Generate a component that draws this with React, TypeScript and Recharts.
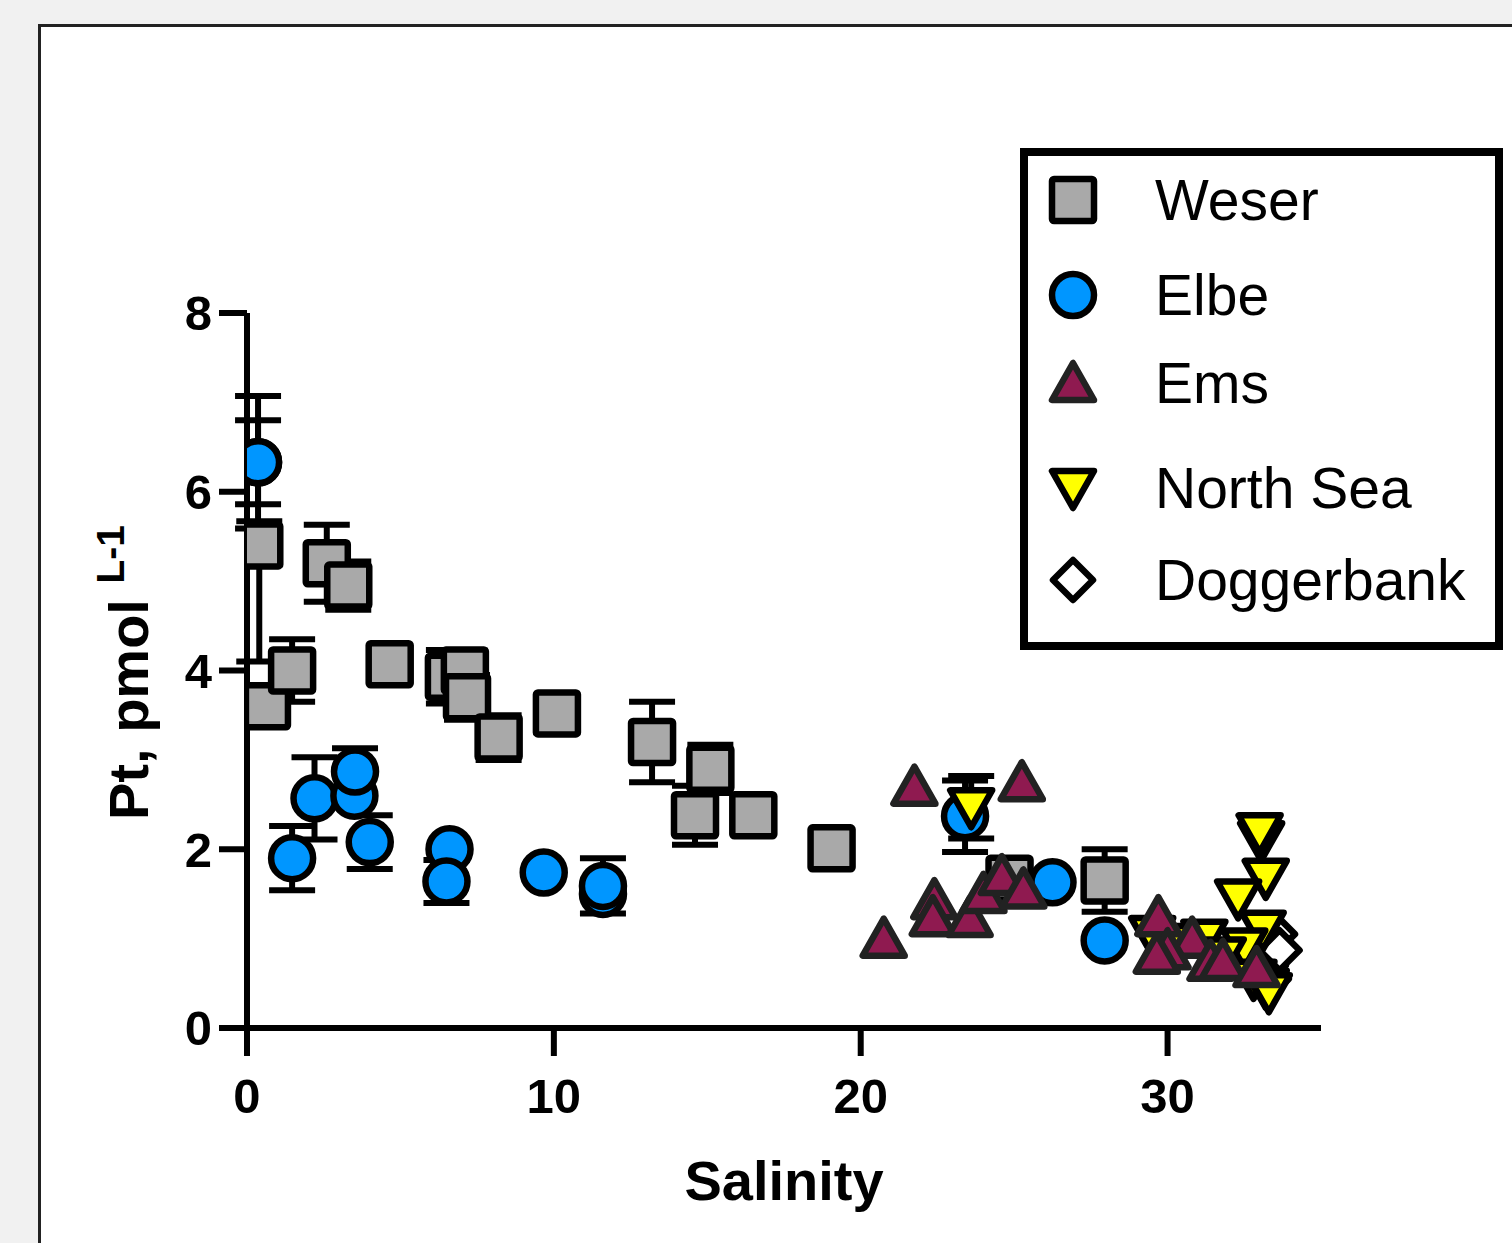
import { ScatterChart, Scatter, XAxis, YAxis, ErrorBar, Legend } from "recharts";

const salinityTicks = [0, 10, 20, 30];
const ptTicks = [0, 2, 4, 6, 8];

// Weser (squares)
const weserSalinity = [0.4, 0.65, 1.47, 2.6, 3.3, 4.65, 6.58, 7.1, 7.17, 8.2, 10.1, 13.2, 15.1, 14.6, 16.5, 19.05, 24.85, 27.95];
const weserPt = [5.4, 3.6, 4.0, 5.2, 4.95, 4.07, 3.93, 4.0, 3.7, 3.25, 3.52, 3.2, 2.9, 2.38, 2.38, 2.01, 1.67, 1.65];
const weserErrLow = [1.3, 0, 0.35, 0.43, 0.27, 0, 0.3, 0.22, 0.25, 0.25, 0, 0.45, 0.27, 0.33, 0, 0, 0, 0.35];
const weserErrHigh = [0.27, 0, 0.35, 0.43, 0.27, 0, 0.3, 0.22, 0.25, 0.25, 0, 0.45, 0.27, 0.33, 0, 0, 0, 0.35];

// Elbe (circles)
const elbeSalinity = [0.36, 0.36, 1.47, 2.2, 3.5, 3.52, 4.0, 6.6, 6.5, 9.67, 11.6, 11.6, 23.4, 26.25, 27.95];
const elbePt = [6.33, 6.33, 1.9, 2.57, 2.6, 2.87, 2.08, 2.0, 1.64, 1.74, 1.5, 1.59, 2.37, 1.63, 0.98];
const elbeErr = [0.74, 0.47, 0.36, 0.46, 0, 0.26, 0.3, 0, 0.24, 0, 0, 0.31, 0.4, 0, 0];

// Ems (triangles)
const emsSalinity = [20.75, 21.75, 25.25, 22.4, 22.35, 23.55, 24.0, 24.6, 25.3, 29.7, 30.8, 30.0, 29.65, 31.4, 31.8, 32.9];
const emsPt = [1.0, 2.7, 2.75, 1.43, 1.24, 1.23, 1.5, 1.7, 1.55, 1.24, 1.0, 0.87, 0.82, 0.74, 0.75, 0.67];

// North Sea (inverted triangles)
const northSeaSalinity = [23.6, 33.05, 33.0, 33.2, 32.3, 29.5, 30.2, 31.2, 33.1, 32.5, 31.8, 32.8, 33.2, 33.3];
const northSeaPt = [2.47, 2.1, 2.19, 1.68, 1.45, 1.04, 0.95, 1.0, 1.1, 0.9, 0.8, 0.55, 0.45, 0.4];
const northSeaErr = [0.35, 0, 0, 0, 0, 0, 0, 0, 0, 0, 0, 0, 0, 0];

// Doggerbank (diamonds)
const doggerSalinity = [33.2, 33.5, 33.3, 33.65];
const doggerPt = [0.7, 1.05, 0.55, 0.87];

const toPoints = (xs: number[], ys: number[], lo?: number[], hi?: number[]) =>
  xs.map((x, i) => {
    const l = lo ? lo[i] : 0;
    const h = hi ? hi[i] : l;
    return { salinity: x, pt: ys[i], err: l || h ? [l, h] : null };
  });

const weserData = toPoints(weserSalinity, weserPt, weserErrLow, weserErrHigh);
const elbeData = toPoints(elbeSalinity, elbePt, elbeErr, elbeErr);
const emsData = toPoints(emsSalinity, emsPt);
const northSeaData = toPoints(northSeaSalinity, northSeaPt, northSeaErr, northSeaErr);
const doggerData = toPoints(doggerSalinity, doggerPt);

const FONT = '"Liberation Sans", Arial, Helvetica, sans-serif';
const SW = 6.5;

const Square = ({ cx, cy }: any) => (
  <rect x={cx - 21} y={cy - 21} width={42} height={42} rx={2} fill="#a9a9a9" stroke="#000" strokeWidth={SW} />
);
const Dot = ({ cx, cy }: any) => (
  <circle cx={cx} cy={cy} r={21} fill="#0096ff" stroke="#000" strokeWidth={SW} />
);
const TriUp = ({ cx, cy }: any) => (
  <polygon
    points={`${cx},${cy - 20} ${cx - 21},${cy + 17} ${cx + 21},${cy + 17}`}
    fill="#8f1a50"
    stroke="#222"
    strokeWidth={SW}
    strokeLinejoin="round"
  />
);
const TriDown = ({ cx, cy }: any) => (
  <polygon
    points={`${cx - 21},${cy - 17} ${cx + 21},${cy - 17} ${cx},${cy + 20}`}
    fill="#ffff00"
    stroke="#000"
    strokeWidth={SW}
    strokeLinejoin="round"
  />
);
const Diamond = ({ cx, cy }: any) => (
  <polygon
    points={`${cx},${cy - 20} ${cx + 20},${cy} ${cx},${cy + 20} ${cx - 20},${cy}`}
    fill="#fff"
    stroke="#000"
    strokeWidth={SW}
    strokeLinejoin="round"
  />
);

const legendItems = [
  { name: "Weser", Shape: Square, top: 52 },
  { name: "Elbe", Shape: Dot, top: 147 },
  { name: "Ems", Shape: TriUp, top: 235 },
  { name: "North Sea", Shape: TriDown, top: 340 },
  { name: "Doggerbank", Shape: Diamond, top: 432 },
];

const renderLegend = () => (
  <div
    style={{
      position: "relative",
      width: 483,
      height: 502,
      boxSizing: "border-box",
      border: "8px solid #000",
      background: "#fff",
    }}
  >
    {legendItems.map(({ name, Shape, top }) => (
      <div key={name}>
        <svg width={60} height={60} style={{ position: "absolute", left: 15, top: top - 38 }}>
          <Shape cx={30} cy={30} />
        </svg>
        <div
          style={{
            position: "absolute",
            left: 127,
            top: top - 43,
            height: 70,
            lineHeight: "70px",
            fontFamily: FONT,
            fontSize: 57,
            color: "#000",
            whiteSpace: "nowrap",
          }}
        >
          {name}
        </div>
      </div>
    ))}
  </div>
);

const tickStyle = { fontFamily: FONT, fontSize: 49, fontWeight: 700, fill: "#000" };
const axisStroke = { stroke: "#000", strokeWidth: 6 };

const App = () => {
  return (
    <div
      style={{
        position: "fixed",
        left: 0,
        top: 0,
        width: 1512,
        height: 1243,
        background: "#f1f1f1",
        overflow: "hidden",
      }}
    >
      <div
        style={{
          position: "absolute",
          left: 38,
          top: 24,
          width: 1520,
          height: 1300,
          background: "#fff",
          border: "3px solid #222",
        }}
      />
      <div style={{ position: "absolute", left: 0, top: 0 }}>
        <ScatterChart width={1512} height={1243} margin={{ top: 313, right: 191, bottom: 135, left: 167 }}>
          <XAxis
            type="number"
            dataKey="salinity"
            domain={[0, 35]}
            ticks={salinityTicks}
            allowDataOverflow
            height={80}
            tickSize={28}
            tickMargin={22}
            axisLine={axisStroke}
            tickLine={axisStroke}
            tick={tickStyle}
            label={{
              content: (props: any) => {
                const vb = props.viewBox || { x: 247, y: 1028, width: 1074 };
                return (
                  <text
                    x={vb.x + vb.width / 2}
                    y={vb.y + 172}
                    textAnchor="middle"
                    fontFamily={FONT}
                    fontSize={56}
                    fontWeight={700}
                    fill="#000"
                  >
                    Salinity
                  </text>
                );
              },
            }}
          />
          <YAxis
            type="number"
            dataKey="pt"
            domain={[0, 8]}
            ticks={ptTicks}
            allowDataOverflow
            width={80}
            tickSize={28}
            tickMargin={7}
            axisLine={axisStroke}
            tickLine={axisStroke}
            tick={tickStyle}
            label={{
              content: (props: any) => {
                const vb = props.viewBox || { x: 167, y: 313, height: 715 };
                const lx = vb.x - 19;
                const ly = vb.y + vb.height / 2 + 2;
                return (
                  <text
                    x={lx}
                    y={ly}
                    transform={`rotate(-90 ${lx} ${ly})`}
                    textAnchor="middle"
                    fontFamily={FONT}
                    fontSize={56}
                    fontWeight={700}
                    fill="#000"
                  >
                    Pt, pmol{" "}
                    <tspan fontSize={39} dy={-24}>
                      L-1
                    </tspan>
                  </text>
                );
              },
            }}
          />
          <Legend
            layout="horizontal"
            verticalAlign="middle"
            align="center"
            content={renderLegend}
            wrapperStyle={{ left: 1020, top: 148, width: 483, height: 502 }}
          />
          <Scatter name="Weser" data={weserData} shape={Square} isAnimationActive={false}>
            <ErrorBar dataKey="err" direction="y" width={23} stroke="#000" strokeWidth={6} />
          </Scatter>
          <Scatter name="Elbe" data={elbeData} shape={Dot} isAnimationActive={false}>
            <ErrorBar dataKey="err" direction="y" width={23} stroke="#000" strokeWidth={6} />
          </Scatter>
          <Scatter name="Doggerbank" data={doggerData} shape={Diamond} isAnimationActive={false} />
          <Scatter name="North Sea" data={northSeaData} shape={TriDown} isAnimationActive={false}>
            <ErrorBar dataKey="err" direction="y" width={23} stroke="#000" strokeWidth={6} />
          </Scatter>
          <Scatter name="Ems" data={emsData} shape={TriUp} isAnimationActive={false} />
        </ScatterChart>
      </div>
    </div>
  );
};

export default App;
